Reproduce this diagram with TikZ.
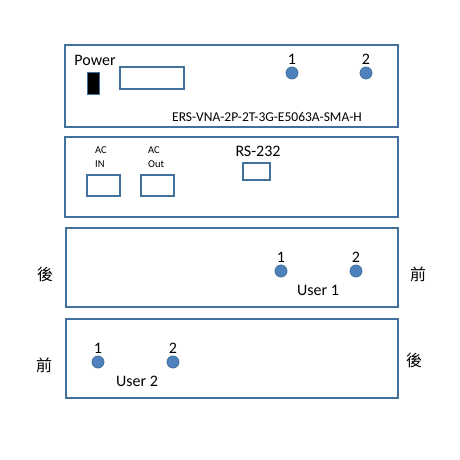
\documentclass[tikz,border=0pt]{standalone}
\usepackage{fontspec}
\usetikzlibrary{positioning}
\setmainfont{Carlito}
\newfontfamily\cjk{Noto Sans CJK TC}
\definecolor{panelblue}{HTML}{41719C}
\definecolor{portblue}{HTML}{4F81BD}
\tikzset{
  panel/.style={draw=panelblue, line width=1.3pt},
  port/.style={circle, draw=panelblue, fill=portblue, line width=0.8pt, minimum size=12pt, inner sep=0pt},
  jack/.style={draw=panelblue, line width=1.3pt},
  big/.style={font=\fontsize{16}{19}\selectfont, inner sep=0pt},
  small/.style={font=\fontsize{10.5}{13}\selectfont, inner sep=0pt, align=left},
  side/.style={font=\cjk\fontsize{16}{19}\selectfont, inner sep=0pt}
}
\begin{document}
\begin{tikzpicture}[x=1pt, y=-1pt]
\useasboundingbox (0,0) rectangle (460,460);

% top panel
\draw[panel] (65,45) rectangle (398,127);
\node[big] (power) at (95,60) {Power};
\draw[panelblue, fill=black, line width=1pt] (87,72) rectangle (99,94);
\draw[jack] (120,67) rectangle (184,89);
\node[port] (p1) at (292,73) {};
\node[port] (p2) at (366,73) {};
\node[big, above=1.5pt of p1] (p1l) {1};
\node[big, above=1.5pt of p2] (p2l) {2};
\node[font=\fontsize{13.5}{15}\selectfont, inner sep=0pt] (model) at (267,117) {ERS-VNA-2P-2T-3G-E5063A-SMA-H};

% rear panel
\draw[panel] (65,137) rectangle (398,217);
\node[small, anchor=north west] (acin) at (95,146) {AC\\[1pt]IN};
\node[small, anchor=north west] (acout) at (148,146) {AC\\[1pt]Out};
\draw[jack] (87,175) rectangle (120,196);
\draw[jack] (141,175) rectangle (174,196);
\node[big] (rs) at (258,151) {RS-232};
\draw[jack] (243,163) rectangle (270,180);

% user 1
\draw[panel] (66,228) rectangle (398,307);
\node[side] (back1) at (45,274) {後};
\node[side] (front1) at (418,274) {前};
\node[port] (u1a) at (281,271) {};
\node[port] (u1b) at (356,271) {};
\node[big, above=1.5pt of u1a] (u1al) {1};
\node[big, above=1.5pt of u1b] (u1bl) {2};
\node[big] (user1) at (318,290) {User 1};

% user 2
\draw[panel] (66,319) rectangle (398,398);
\node[side] (front2) at (44,365) {前};
\node[side] (back2) at (414,360) {後};
\node[port] (u2a) at (98,362) {};
\node[port] (u2b) at (173,362) {};
\node[big, above=1.5pt of u2a] (u2al) {1};
\node[big, above=1.5pt of u2b] (u2bl) {2};
\node[big] (user2) at (137,381) {User 2};
\end{tikzpicture}
\end{document}
